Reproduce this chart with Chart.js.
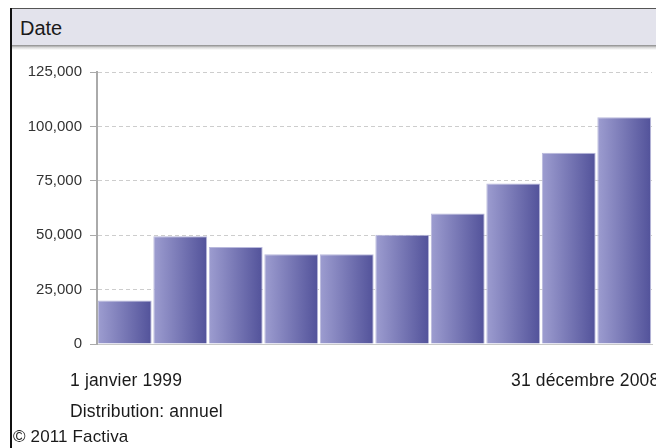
<!DOCTYPE html>
<html>
<head>
<meta charset="utf-8">
<script src="https://cdn.jsdelivr.net/npm/chart.js@4/dist/chart.umd.min.js"></script>
<style>
  html, body { margin: 0; padding: 0; background: #fff; }
  body { width: 656px; height: 448px; position: relative; overflow: hidden; font-family: "Liberation Sans", Arial, sans-serif; }
  #frame { position: absolute; left: 10px; top: 8px; width: 2px; height: 440px; background: #111; }
  #header { position: absolute; left: 12px; top: 8px; width: 644px; height: 36px; background: #e3e3ec; border-top: 1px solid #555; }
  #shadow { position: absolute; left: 12px; top: 45px; width: 644px; height: 5px; background: linear-gradient(#8a8a8a, #d8d8d8 50%, #fff); }
  #wrap { position: absolute; left: 0; top: 0; width: 656px; height: 448px; }
  .txt { position: absolute; font-size: 17.5px; line-height: 20px; color: #1a1a1a; white-space: nowrap; letter-spacing: 0.15px; }
</style>
</head>
<body>
<div id="wrap"><canvas id="c" width="656" height="448"></canvas></div>
<div id="frame"></div>
<div id="header"></div>
<div id="shadow"></div>
<div class="txt" style="left:20px; top:16px; font-size:20px; line-height:24px; letter-spacing:0;">Date</div>
<div class="txt" style="left:70px; top:370px;">1 janvier 1999</div>
<div class="txt" style="left:511px; top:370px;">31 décembre 2008</div>
<div class="txt" style="left:70px; top:401px;">Distribution: annuel</div>
<div class="txt" style="left:13px; top:427px; font-size:17px;">© 2011 Factiva</div>
<script>
const years = ['1999','2000','2001','2002','2003','2004','2005','2006','2007','2008'];
const articles = [20000, 49500, 44600, 41200, 41200, 50200, 60000, 73800, 87900, 104200];
const yTicks = [0, 25000, 50000, 75000, 100000, 125000];

const CAT_PCT = 0.97;
const chart = new Chart(document.getElementById('c'), {
  type: 'bar',
  data: {
    labels: years,
    datasets: [{
      data: articles,
      barPercentage: 1,
      categoryPercentage: CAT_PCT,
      borderWidth: 1,
      borderColor: '#b9b9dc',
      borderSkipped: 'bottom',
      backgroundColor: (ctx) => {
        const ch = ctx.chart;
        const area = ch.chartArea;
        if (!area || !ch.scales.x) return '#7878b6';
        const x = ch.scales.x.getPixelForValue(ctx.dataIndex);
        const w = (area.right - area.left) / years.length * CAT_PCT;
        const g = ch.ctx.createLinearGradient(x - w / 2, 0, x + w / 2, 0);
        g.addColorStop(0, '#9d9dd0');
        g.addColorStop(1, '#52529a');
        return g;
      }
    }]
  },
  options: {
    responsive: false,
    animation: false,
    devicePixelRatio: 1,
    layout: { padding: { left: 0, top: 72, right: 4, bottom: 104 } },
    plugins: { legend: { display: false }, tooltip: { enabled: false }, title: { display: false } },
    scales: {
      x: {
        afterFit: (s) => { s.height = 0; },
        grid: { display: false },
        border: { display: true, color: '#c8c8c8', width: 1 },
        ticks: { display: false }
      },
      y: {
        min: 0, max: 125000,
        afterFit: (s) => { s.width = 97; },
        afterBuildTicks: (s) => { s.ticks = yTicks.map(v => ({ value: v })); },
        border: { display: true, color: '#aaaaaa', width: 2, dash: [4, 3] },
        grid: {
          color: '#cdcdcd', lineWidth: 1,
          tickBorderDash: [],
          tickColor: '#aaaaaa', tickLength: 7, drawTicks: true
        },
        ticks: {
          padding: 8,
          color: '#333',
          font: { family: '"Liberation Sans", Arial, sans-serif', size: 15 },
          callback: (v) => Number(v).toLocaleString('en-US')
        }
      }
    }
  }
});
</script>
</body>
</html>
